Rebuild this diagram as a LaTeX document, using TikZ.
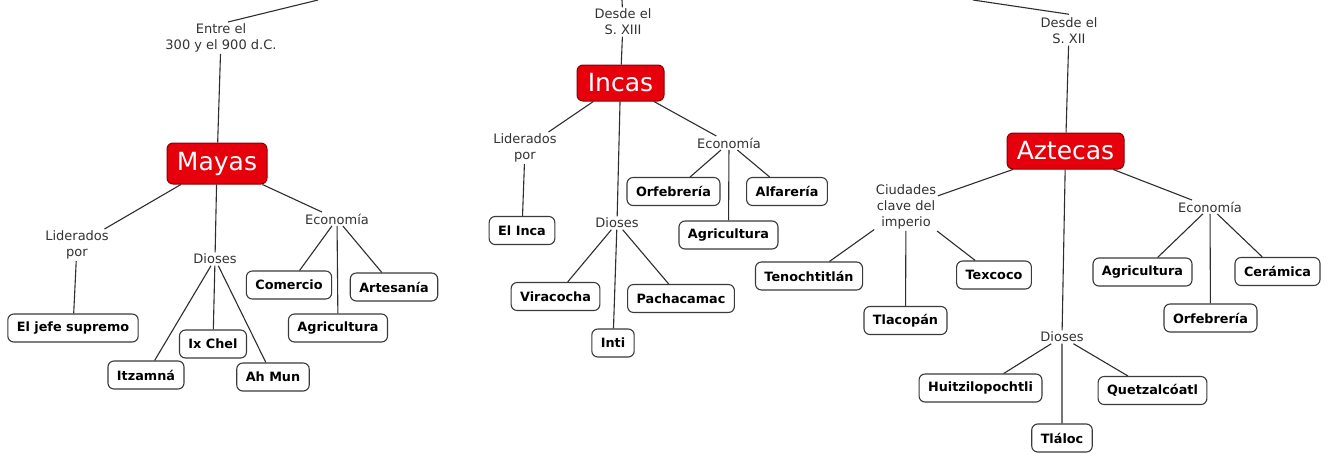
\documentclass[tikz,border=0pt]{standalone}
\usepackage{fontspec}
\setmainfont{DejaVu Sans}
\definecolor{linec}{HTML}{2E2E2E}
\definecolor{txtc}{HTML}{333333}
\definecolor{redfill}{HTML}{E5000B}
\definecolor{redline}{HTML}{8A0000}
\definecolor{boxline}{HTML}{3A3A3A}
\tikzset{
  lbl/.style={align=center, inner sep=1.5pt, text=txtc, font=\fontsize{13}{16}\selectfont},
  leaf/.style={draw=boxline, line width=1.1pt, rounded corners=6pt, fill=white, inner xsep=9pt, inner ysep=0pt, minimum height=28pt, font=\fontsize{12.8}{15}\selectfont\bfseries, text=black},
  civ/.style={draw=redline, line width=1pt, rounded corners=6pt, fill=redfill, text=white, inner sep=0pt, font=\fontsize{25}{30}\selectfont},
  conn/.style={draw=linec, line width=1.1pt}
}
\begin{document}
\begin{tikzpicture}[x=1pt,y=-1pt]
\useasboundingbox (0,0) rectangle (1330,453);
\fill[white] (0,0) rectangle (1330,453);
% ---------- Mayas ----------
\coordinate (top1) at (318,0);
\node[lbl] (t1) at (221,38) {Entre el\\300 y el 900 d.C.};
\node[civ, minimum width=100pt, minimum height=41pt] (mayas) at (217,163.5) {Mayas};
\node[lbl] (lid1) at (77,245) {Liderados\\por};
\node[lbl] (dio1) at (215,259) {Dioses};
\node[lbl] (eco1) at (337,219) {Economía};
\node[leaf] (jefe) at (73,328) {El jefe supremo};
\node[leaf] (itz) at (146,375) {Itzamná};
\node[leaf] (ixc) at (213,344) {Ix Chel};
\node[leaf] (ahm) at (273,377) {Ah Mun};
\node[leaf] (com) at (289,285) {Comercio};
\node[leaf] (agr1) at (338,328) {Agricultura};
\node[leaf] (art) at (394,287) {Artesanía};
% ---------- Incas ----------
\coordinate (top2) at (622,0);
\node[lbl] (t2) at (623,22) {Desde el\\S. XIII};
\node[civ, minimum width=87pt, minimum height=36pt] (incas) at (620.5,83) {Incas};
\node[lbl] (lid2) at (525,148) {Liderados\\por};
\node[lbl] (dio2) at (617,223) {Dioses};
\node[lbl] (eco2) at (729,143) {Economía};
\node[leaf] (elinca) at (522,230.5) {El Inca};
\node[leaf] (vira) at (555.5,296.5) {Viracocha};
\node[leaf] (pacha) at (681,298.5) {Pachacamac};
\node[leaf] (inti) at (613,343) {Inti};
\node[leaf] (orf2) at (673.5,191.5) {Orfebrería};
\node[leaf] (agr2) at (728.5,235) {Agricultura};
\node[leaf] (alf) at (787,191.5) {Alfarería};
% ---------- Aztecas ----------
\coordinate (top3) at (973,0);
\node[lbl] (t3) at (1069,31) {Desde el\\S. XII};
\node[civ, minimum width=117pt, minimum height=36pt] (azt) at (1065.5,151) {Aztecas};
\node[lbl] (ciu) at (906,207) {Ciudades\\clave del\\imperio};
\node[lbl] (eco3) at (1210,207) {Economía};
\node[lbl] (dio3) at (1062,337) {Dioses};
\node[leaf] (teno) at (809,276) {Tenochtitlán};
\node[leaf] (tlaco) at (905.5,320.5) {Tlacopán};
\node[leaf] (texc) at (994,275) {Texcoco};
\node[leaf] (agr3) at (1142.5,272) {Agricultura};
\node[leaf] (orf3) at (1210.5,318) {Orfebrería};
\node[leaf] (cer) at (1277.5,271.5) {Cerámica};
\node[leaf] (huit) at (980.5,388) {Huitzilopochtli};
\node[leaf] (tlal) at (1062,438) {Tláloc};
\node[leaf] (quet) at (1152.5,390.5) {Quetzalcóatl};
% ---------- connectors ----------
\path[conn] (top1) -- ([xshift=7pt]t1.north) (t1) -- (mayas)
  (mayas) -- (lid1) (mayas) -- (dio1) (mayas) -- (eco1)
  (lid1) -- (jefe)
  (dio1) -- (itz) (dio1) -- (ixc) (dio1) -- (ahm)
  (eco1) -- (com) (eco1) -- (agr1) (eco1) -- (art);
\path[conn] (top2) -- (t2) (t2) -- (incas)
  (incas) -- (lid2) (incas) -- (dio2) (incas) -- (eco2)
  (lid2) -- (elinca)
  (dio2) -- (vira) (dio2) -- (pacha) (dio2) -- (inti)
  (eco2) -- (orf2) (eco2) -- (agr2) (eco2) -- (alf);
\path[conn] (top3) -- ([yshift=2pt]t3.north) (t3) -- (azt)
  (azt) -- (ciu) (azt) -- (eco3) (azt) -- (dio3)
  (ciu) -- (teno) (ciu) -- (tlaco) (ciu) -- (texc)
  (eco3) -- (agr3) (eco3) -- (orf3) (eco3) -- (cer)
  (dio3) -- (huit) (dio3) -- (tlal) (dio3) -- (quet);
\end{tikzpicture}
\end{document}
